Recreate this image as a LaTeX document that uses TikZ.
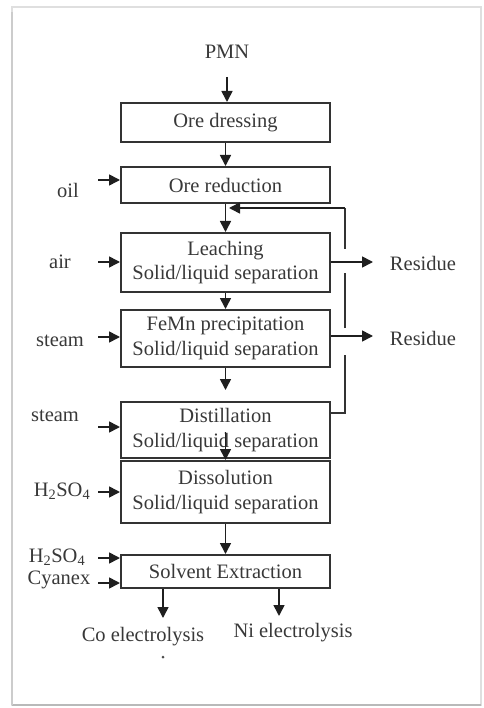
\documentclass[tikz,border=0pt]{standalone}
\usepackage{fontspec}
\setmainfont{Liberation Serif}
\usetikzlibrary{arrows.meta}
\begin{document}
\begin{tikzpicture}[x=1pt,y=-1pt,
  every node/.style={font=\fontsize{20.5}{24.5}\selectfont, text=black!78},
  procbox/.style={draw=black!80, line width=2pt, minimum width=209pt, align=center, inner sep=0pt},
  arr/.style={draw=black!88, line width=1.6pt, -{Triangle[length=11pt,width=11pt]}},
  ln/.style={draw=black!80, line width=1.6pt},
  lbl/.style={inner sep=0pt}]
\useasboundingbox (0,0) rectangle (483,708);
% frame
\draw[gray!25, line width=1.5pt] (12,7) rectangle (481,705);
\draw[gray!55, line width=2.5pt] (12,705) -- (481,705);
\draw[gray!40, line width=2pt] (12,12) -- (12,705);
% process boxes
\node[procbox, minimum height=39pt] (dress) at (225.5,122.5) {Ore dressing};
\node[procbox, minimum height=36pt] (red) at (225.5,185) {Ore reduction};
\node[procbox, minimum height=59pt] (leach) at (225.5,262.5) {Leaching\\Solid/liquid separation};
\node[procbox, minimum height=57pt] (femn) at (225.5,338.5) {FeMn precipitation\\Solid/liquid separation};
\node[procbox, minimum height=56pt] (dist) at (225.5,430) {Distillation\\Solid/liquid separation};
\node[procbox, minimum height=62pt] (diss) at (225.5,492) {Dissolution\\Solid/liquid separation};
\node[procbox, minimum height=33pt] (sx) at (225.5,571.5) {Solvent Extraction};
% top input
\node[lbl] (pmn) at (227,52) {PMN};
\coordinate (pmnc) at (227,77);
\draw[arr] (pmnc) -- (pmnc |- dress.north);
\draw[arr] (dress.south) -- (red.north);
\draw[arr] (red.south) -- (leach.north);
\draw[arr] (leach.south) -- (femn.north);
\coordinate (fdc) at (225.5,390);
\draw[arr] (femn.south) -- (fdc);
\coordinate (ddc) at (225.5,432);
\draw[arr] (ddc) -- (diss.north);
\draw[arr] (diss.south) -- (sx.north);
% side inputs
\node[lbl] (oil) at (68,190) {oil};
\coordinate (oilc) at (98,180);
\draw[arr] (oilc) -- (oilc -| red.west);
\node[lbl] (air) at (60,262) {air};
\coordinate (airc) at (98,262);
\draw[arr] (airc) -- (airc -| leach.west);
\node[lbl] (steam1) at (60,341) {steam};
\coordinate (st1c) at (98,337);
\draw[arr] (st1c) -- (st1c -| femn.west);
\node[lbl] (steam2) at (55,416) {steam};
\coordinate (st2c) at (98,427);
\draw[arr] (st2c) -- (st2c -| dist.west);
\node[lbl] (acid1) at (62,491) {H\textsubscript{2}SO\textsubscript{4}};
\coordinate (ac1c) at (98,492);
\draw[arr] (ac1c) -- (ac1c -| diss.west);
\node[lbl] (acid2) at (57,557) {H\textsubscript{2}SO\textsubscript{4}};
\coordinate (ac2c) at (98,558);
\draw[arr] (ac2c) -- (ac2c -| sx.west);
\node[lbl] (cyanex) at (59,580) {Cyanex};
\coordinate (cyc) at (98,583);
\draw[arr] (cyc) -- (cyc -| sx.west);
% residues
\node[lbl] (res1) at (423,263) {Residue};
\node[lbl] (res2) at (423,338) {Residue};
\coordinate (r1c) at (373,262);
\coordinate (r2c) at (373,336);
\draw[arr] (r1c -| leach.east) -- (r1c);
\draw[arr] (r2c -| femn.east) -- (r2c);
% recycle loop from distillation with line gaps
\coordinate (lpa) at (345,413);
\coordinate (lpb) at (345,208);
\coordinate (lpt) at (229,208);
\draw[ln] (lpa -| dist.east) -- (lpa) -- (345,355);
\draw[ln] (345,328) -- (345,273);
\draw[ln] (345,249) -- (lpb);
\draw[arr] (lpb) -- (lpt);
% outputs
\node[lbl] (co) at (143,637) {Co electrolysis};
\node[lbl] (ni) at (293,633) {Ni electrolysis};
\coordinate (coc) at (163,618);
\coordinate (nic) at (279,616);
\draw[arr] (coc |- sx.south) -- (coc);
\draw[arr] (nic |- sx.south) -- (nic);
\fill[black!70] (163,657) circle (1.5pt);
\end{tikzpicture}
\end{document}
